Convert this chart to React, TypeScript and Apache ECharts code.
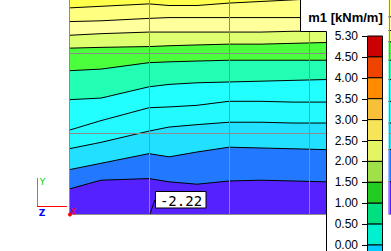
import React, { useEffect, useRef } from "react";
import * as echarts from "echarts";

// x positions (grid units) at which the contour lines are sampled
const CONTOUR_X = [0, 0.4, 1.0, 1.25, 1.6, 2.0, 2.4, 2.8, 3.2, 4.1];

// contour lines, top to bottom (y in grid units)
const LINE_1 = [2.56, 2.58, 2.61, 2.59, 2.59, 2.62, 2.64, 2.66, 2.68, 2.71];
const LINE_2 = [2.39, 2.40, 2.43, 2.44, 2.44, 2.44, 2.44, 2.44, 2.44, 2.45];
const LINE_3 = [2.22, 2.24, 2.26, 2.26, 2.26, 2.26, 2.26, 2.27, 2.27, 2.28];
const LINE_4 = [2.06, 2.07, 2.08, 2.09, 2.10, 2.11, 2.11, 2.12, 2.13, 2.14];
const LINE_5 = [1.78, 1.80, 1.88, 1.89, 1.90, 1.91, 1.91, 1.91, 1.91, 1.91];
const LINE_6 = [1.42, 1.44, 1.58, 1.61, 1.63, 1.64, 1.65, 1.66, 1.67, 1.67];
const LINE_7 = [1.04, 1.16, 1.32, 1.33, 1.35, 1.40, 1.40, 1.39, 1.39, 1.40];
const LINE_8 = [0.81, 0.89, 1.03, 1.08, 1.11, 1.14, 1.14, 1.13, 1.13, 1.13];
const LINE_9 = [0.55, 0.63, 0.75, 0.71, 0.77, 0.83, 0.82, 0.81, 0.80, 0.80];
const LINE_10 = [0.31, 0.42, 0.44, 0.40, 0.37, 0.41, 0.42, 0.41, 0.40, 0.40];

// fill colours: above line 1, then below each line
const BAND_COLORS = [
  "#ffff4c",
  "#ffff80",
  "#ffff9c",
  "#ddff70",
  "#4cff3c",
  "#22ffb4",
  "#22ffff",
  "#22faff",
  "#22e0ff",
  "#2278ff",
  "#5522ff",
];

// legend
const LEGEND_TITLE = "m1 [kNm/m]";
const LEGEND_TICKS = ["5.30", "4.50", "4.00", "3.50", "3.00", "2.50", "2.00", "1.50", "1.00", "0.50", "0.00"];
const LEGEND_COLORS = [
  "#cc0000",
  "#ee4400",
  "#ff8c00",
  "#f8c038",
  "#f8e458",
  "#e4f464",
  "#a0e048",
  "#22cc22",
  "#00e080",
  "#00f0d0",
  "#00ccff",
];
const MIN_LABEL = "-2.22";

export default function App() {
  const ref = useRef<HTMLDivElement>(null);

  useEffect(() => {
    if (!ref.current) return;
    const chart = echarts.init(ref.current, null, { renderer: "svg" });
    const lines = [LINE_1, LINE_2, LINE_3, LINE_4, LINE_5, LINE_6, LINE_7, LINE_8, LINE_9, LINE_10];

    const series = lines.map((ys, i) => ({
      type: "line",
      data: CONTOUR_X.map((x, j) => [x, ys[j]]),
      symbol: "none",
      showSymbol: false,
      silent: true,
      clip: true,
      z: 2 + i,
      lineStyle: { color: "#000", width: 1 },
      areaStyle: { color: BAND_COLORS[i + 1], opacity: 1, origin: "start" },
    }));

    const barX = 367.5;
    const barW = 15;
    const barTop = 36;
    const step = 20.9;
    const legendEls: any[] = [];
    LEGEND_COLORS.forEach((c, i) => {
      legendEls.push({
        type: "rect",
        z: 101,
        shape: { x: barX, y: barTop + step * i, width: barW, height: i === LEGEND_COLORS.length - 1 ? 20 : step },
        style: { fill: c, stroke: "#000", lineWidth: 1 },
      });
    });
    LEGEND_TICKS.forEach((t, i) => {
      const y = Math.round(barTop + step * i) + 0.5;
      legendEls.push({
        type: "line",
        z: 102,
        shape: { x1: 362, y1: y, x2: barX, y2: y },
        style: { stroke: "#000", lineWidth: 1 },
      });
      legendEls.push({
        type: "text",
        z: 102,
        x: 358,
        y: barTop + step * i,
        style: {
          text: t,
          fill: "#000",
          font: "12px 'Liberation Sans', Arial, sans-serif",
          align: "right",
          verticalAlign: "middle",
        },
      });
    });

    chart.setOption({
      animation: false,
      grid: {
        left: 69,
        right: 0,
        top: 0,
        bottom: 37,
        outerBoundsMode: "none",
        containLabel: false,
        show: true,
        backgroundColor: BAND_COLORS[0],
        borderWidth: 0,
      },
      xAxis: {
        type: "value",
        min: 0,
        max: 4.025,
        interval: 1,
        z: 50,
        axisLine: { show: false },
        axisTick: { show: false },
        axisLabel: { show: false },
        splitLine: { show: true, showMaxLine: false, lineStyle: { color: "#8c8c8c", width: 1 } },
      },
      yAxis: {
        type: "value",
        min: 0,
        max: 2.6584,
        interval: 1,
        z: 50,
        axisLine: { show: false },
        axisTick: { show: false },
        axisLabel: { show: false },
        splitLine: { show: true, showMaxLine: false, lineStyle: { color: "#8c8c8c", width: 1 } },
      },
      series,
      graphic: [
        // legend panel
        { type: "rect", z: 100, shape: { x: 300, y: 0, width: 88.5, height: 31.5 }, style: { fill: "#fff" } },
        { type: "rect", z: 100, shape: { x: 326, y: 31, width: 62.5, height: 221 }, style: { fill: "#fff" } },
        {
          type: "polyline",
          z: 101,
          shape: { points: [[300.5, 0], [300.5, 31.5], [326.5, 31.5], [326.5, 252]] },
          style: { stroke: "#000", lineWidth: 1, fill: "none" },
        },
        {
          type: "text",
          z: 102,
          x: 345.5,
          y: 17.5,
          style: {
            text: LEGEND_TITLE,
            fill: "#000",
            font: "bold 13px 'Liberation Sans', Arial, sans-serif",
            align: "center",
            verticalAlign: "middle",
          },
        },
        ...legendEls,
        // min value label
        {
          type: "line",
          z: 100,
          shape: { x1: 150, y1: 214, x2: 155, y2: 199.5 },
          style: { stroke: "#000", lineWidth: 1 },
        },
        {
          type: "rect",
          z: 100,
          shape: { x: 155.5, y: 191.5, width: 50.5, height: 16.5 },
          style: { fill: "#fff", stroke: "#000", lineWidth: 1 },
        },
        {
          type: "text",
          z: 101,
          x: 181,
          y: 200.5,
          style: {
            text: MIN_LABEL,
            fill: "#000",
            font: "14px 'DejaVu Sans Mono', monospace",
            align: "center",
            verticalAlign: "middle",
          },
        },
        // axis triad
        { type: "line", z: 100, shape: { x1: 37.5, y1: 178, x2: 37.5, y2: 206.5 }, style: { stroke: "#00e000", lineWidth: 1 } },
        { type: "line", z: 100, shape: { x1: 37, y1: 206.5, x2: 67, y2: 206.5 }, style: { stroke: "#ff0000", lineWidth: 1 } },
        {
          type: "text",
          z: 100,
          x: 42.5,
          y: 182,
          style: { text: "Y", fill: "#00d000", font: "9px 'DejaVu Sans', sans-serif", align: "center", verticalAlign: "middle" },
        },
        {
          type: "text",
          z: 100,
          x: 42,
          y: 212.5,
          style: { text: "Z", fill: "#0000ff", font: "bold 9px 'DejaVu Sans', sans-serif", align: "center", verticalAlign: "middle" },
        },
        {
          type: "text",
          z: 100,
          x: 73,
          y: 212,
          style: { text: "X", fill: "#ff0000", font: "9px 'DejaVu Sans', sans-serif", align: "center", verticalAlign: "middle" },
        },
        { type: "circle", z: 100, shape: { cx: 70, cy: 214.5, r: 2 }, style: { fill: "#ff0000" } },
      ],
    });
    return () => chart.dispose();
  }, []);

  return (
    <div
      ref={ref}
      style={{ position: "fixed", left: 0, top: 0, width: 391, height: 251, background: "#fff" }}
    />
  );
}
